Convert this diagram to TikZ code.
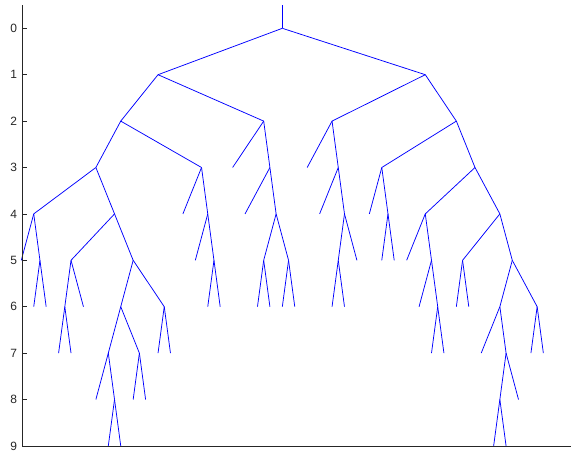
\documentclass[tikz,border=0pt]{standalone}
\usepackage{fontspec}
\setmainfont{Liberation Sans}
\begin{document}
\begin{tikzpicture}[x=1pt,y=-1pt,
  edge/.style={draw=blue, line width=0.75pt},
  axisline/.style={draw=black!85, line width=0.8pt},
  ticklabel/.style={anchor=east, inner sep=0pt, font=\fontsize{12}{14}\selectfont, text=black!85}]
\useasboundingbox (0,0) rectangle (572,455);
\begin{scope}[shift={(8.87pt,-28.3pt)}, x=12.43pt, y=-46.4pt]
  \coordinate (stem) at (22,-0.502);
  \foreach \n/\i/\l in {1/1/5, 2/2/6, 3/3/6, 4/4/7, 5/5/7, 6/6/6, 7/7/8, 8/8/9, 9/9/9,
    10/10/8, 11/11/8, 12/12/7, 13/13/7, 14/14/4, 15/15/5, 16/16/6, 17/17/6, 18/18/3,
    19/19/4, 20/20/6, 21/21/6, 22/22/6, 23/23/6, 24/24/3, 25/25/4, 26/26/6, 27/27/6,
    28/28/5, 29/29/4, 30/30/5, 31/31/5, 32/32/5, 33/33/6, 34/34/7, 35/35/7, 36/36/6,
    37/37/6, 38/38/7, 39/39/9, 40/40/9, 41/41/8, 42/42/7, 43/43/7}
    \coordinate (L\n) at (\i,\l);
  \foreach \n/\i/\l in {R/22/0, A/12/1, A1/9/2, C1/7/3, D1/2/4, E1/2.5/5, D2/8.5/4,
    E2/5/5, F1/4.5/6, E3/10/5, F2/9/6, G1/8/7, H1/8.5/8, G2/10.5/7, F3/12.5/6,
    C2/15.5/3, D3/16/4, E4/16.5/5, A2/20.5/2, C3/21/3, D4/21.5/4, E5/20.5/5, E6/22.5/5,
    B/33.5/1, B1/26/2, C4/26.5/3, D5/27/4, E7/26.5/5, B2/36/2, C5/30/3, D6/30.5/4,
    C6/37.5/3, D7/33.5/4, E8/34/5, F4/34.5/6, D8/39.5/4, E9/36.5/5, E10/40.5/5,
    F5/39.5/6, G3/40/7, H2/39.5/8, F6/42.5/6}
    \coordinate (\n) at (\i,\l);
  \foreach \p/\c in {stem/R, R/A, R/B, A/A1, A/A2, A1/C1, A1/C2, C1/D1, C1/D2,
    D1/L1, D1/E1, E1/L2, E1/L3, D2/E2, D2/E3, E2/F1, E2/L6, F1/L4, F1/L5,
    E3/F2, E3/F3, F2/G1, F2/G2, G1/L7, G1/H1, H1/L8, H1/L9, G2/L10, G2/L11,
    F3/L12, F3/L13, C2/L14, C2/D3, D3/L15, D3/E4, E4/L16, E4/L17,
    A2/L18, A2/C3, C3/L19, C3/D4, D4/E5, D4/E6, E5/L20, E5/L21, E6/L22, E6/L23,
    B/B1, B/B2, B1/L24, B1/C4, C4/L25, C4/D5, D5/E7, D5/L28, E7/L26, E7/L27,
    B2/C5, B2/C6, C5/L29, C5/D6, D6/L30, D6/L31, C6/D7, C6/D8, D7/L32, D7/E8,
    E8/L33, E8/F4, F4/L34, F4/L35, D8/E9, D8/E10, E9/L36, E9/L37, E10/F5, E10/F6,
    F5/L38, F5/G3, G3/H2, G3/L41, H2/L39, H2/L40, F6/L42, F6/L43}
    \draw[edge] (\p) -- (\c);
\end{scope}
\coordinate (ytop) at (22,5);
\coordinate (origin) at (22,446);
\coordinate (xend) at (571,446);
\draw[axisline] (ytop) -- (origin) -- (xend);
\foreach \l in {0,...,9} {
  \pgfmathsetmacro\yy{28.3+46.4*\l}
  \coordinate (tk\l) at (22,\yy);
  \coordinate (tke\l) at (27,\yy);
  \draw[axisline] (tk\l) -- (tke\l);
  \node[ticklabel] (t\l) at (17.3,\yy) {\l};
}
\end{tikzpicture}
\end{document}
